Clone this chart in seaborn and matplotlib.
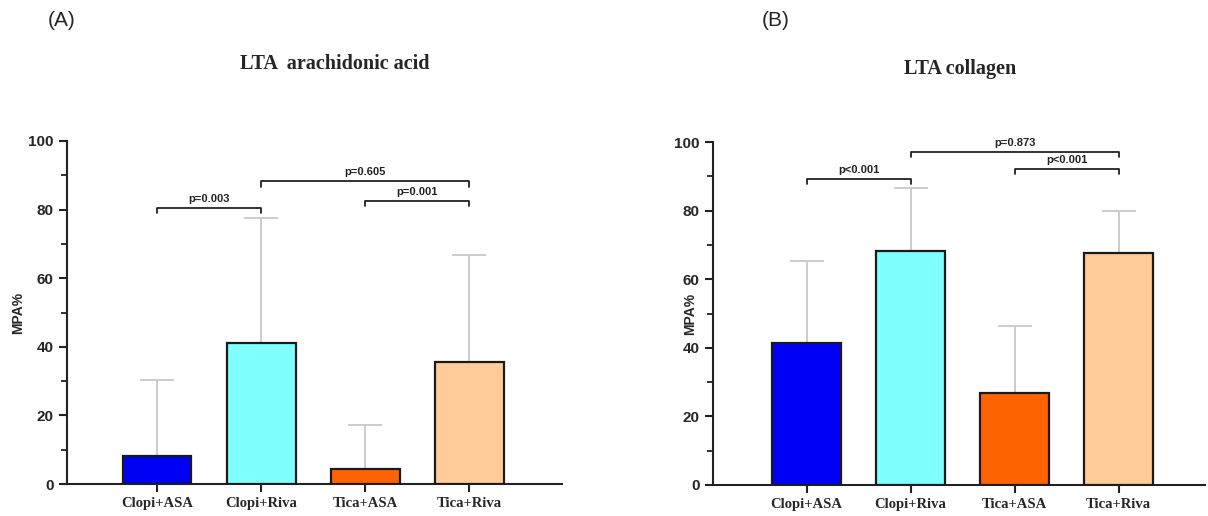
import numpy as np
import pandas as pd
import seaborn as sns
import matplotlib.pyplot as plt
from matplotlib.ticker import MultipleLocator

# datos
groups = ['Clopi+ASA', 'Clopi+Riva', 'Tica+ASA', 'Tica+Riva']
colors = ['#0000F5', '#80FFFF', '#FF6200', '#FFCC99']

aa_mean = [8.2, 41.2, 4.3, 35.7]
aa_sd = [22.0, 36.3, 13.0, 31.2]

col_mean = [41.4, 68.1, 26.7, 67.5]
col_sd = [23.9, 18.5, 19.8, 12.5]

# comparaciones: (grupo a, grupo b, altura, texto)
aa_pvals = [(0, 1, 80.5, 'p=0.003'), (1, 3, 88.2, 'p=0.605'), (2, 3, 82.5, 'p=0.001')]
col_pvals = [(0, 1, 89.3, 'p<0.001'), (1, 3, 97.0, 'p=0.873'), (2, 3, 92.2, 'p<0.001')]

sns.set_theme(style='ticks')
plt.rcParams['font.family'] = ['Liberation Sans', 'DejaVu Sans']

fig = plt.figure(figsize=(12.08, 5.16), dpi=100)
ax_a = fig.add_axes([67 / 1208, 1 - 484 / 516, 495 / 1208, 343 / 516])
ax_b = fig.add_axes([713 / 1208, 1 - 485 / 516, 492 / 1208, 343 / 516])


def panel(ax, means, sds, pvals, xlim, ylab_x):
    df = pd.DataFrame({'group': groups, 'MPA': means})
    sns.barplot(data=df, x='group', y='MPA', hue='group', palette=colors,
                saturation=1, width=0.66, edgecolor='#1a1a1a', linewidth=1.6,
                errorbar=None, legend=False, ax=ax, zorder=3)
    x = np.arange(len(groups))
    ax.errorbar(x, means, yerr=[np.zeros(len(groups)), sds], fmt='none',
                ecolor='#c8c8c8', elinewidth=1.3, capsize=12, capthick=1.3, zorder=2)
    for a, b, h, txt in pvals:
        ax.plot([a, a, b, b], [h - 1.5, h, h, h - 1.5], color='#222222', lw=1.3,
                clip_on=False, zorder=4)
        ax.text((a + b) / 2, h + 1.2, txt, ha='center', va='bottom', fontsize=8,
                fontweight='bold', color='#222222')
    ax.set_ylim(0, 100)
    ax.set_xlim(*xlim)
    ax.yaxis.set_major_locator(MultipleLocator(20))
    ax.yaxis.set_minor_locator(MultipleLocator(10))
    ax.set_xlabel('')
    ax.set_ylabel('MPA%', fontsize=10, fontweight='bold')
    ax.yaxis.set_label_coords(ylab_x, 0.5)
    sns.despine(ax=ax)
    for s in ['left', 'bottom']:
        ax.spines[s].set_linewidth(1.5)
        ax.spines[s].set_color('#222222')
    ax.tick_params(axis='both', which='major', length=6, width=1.5, color='#222222')
    ax.tick_params(axis='y', which='minor', length=4, width=1.3, color='#222222')
    for lab in ax.get_yticklabels():
        lab.set_fontsize(11)
        lab.set_fontweight('bold')
    ax.set_xticks(range(len(groups)))
    ax.set_xticklabels(groups, fontsize=10.5, fontweight='bold',
                       family=['Liberation Serif', 'DejaVu Serif'])


panel(ax_a, aa_mean, aa_sd, aa_pvals, (-0.865, 3.89), -0.085)
panel(ax_b, col_mean, col_sd, col_pvals, (-0.90, 3.83), -0.033)

fig.text(48 / 1208, 1 - 20 / 516, '(A)', fontsize=15, va='center', ha='left')
fig.text(762 / 1208, 1 - 20 / 516, '(B)', fontsize=15, va='center', ha='left')
fig.text(335 / 1208, 1 - 64 / 516, 'LTA  arachidonic acid', fontsize=14.5, fontweight='bold',
         ha='center', va='center', family=['Liberation Serif', 'DejaVu Serif'])
fig.text(960 / 1208, 1 - 69 / 516, 'LTA collagen', fontsize=14.5, fontweight='bold',
         ha='center', va='center', family=['Liberation Serif', 'DejaVu Serif'])

fig.savefig('out.png', dpi=100)
